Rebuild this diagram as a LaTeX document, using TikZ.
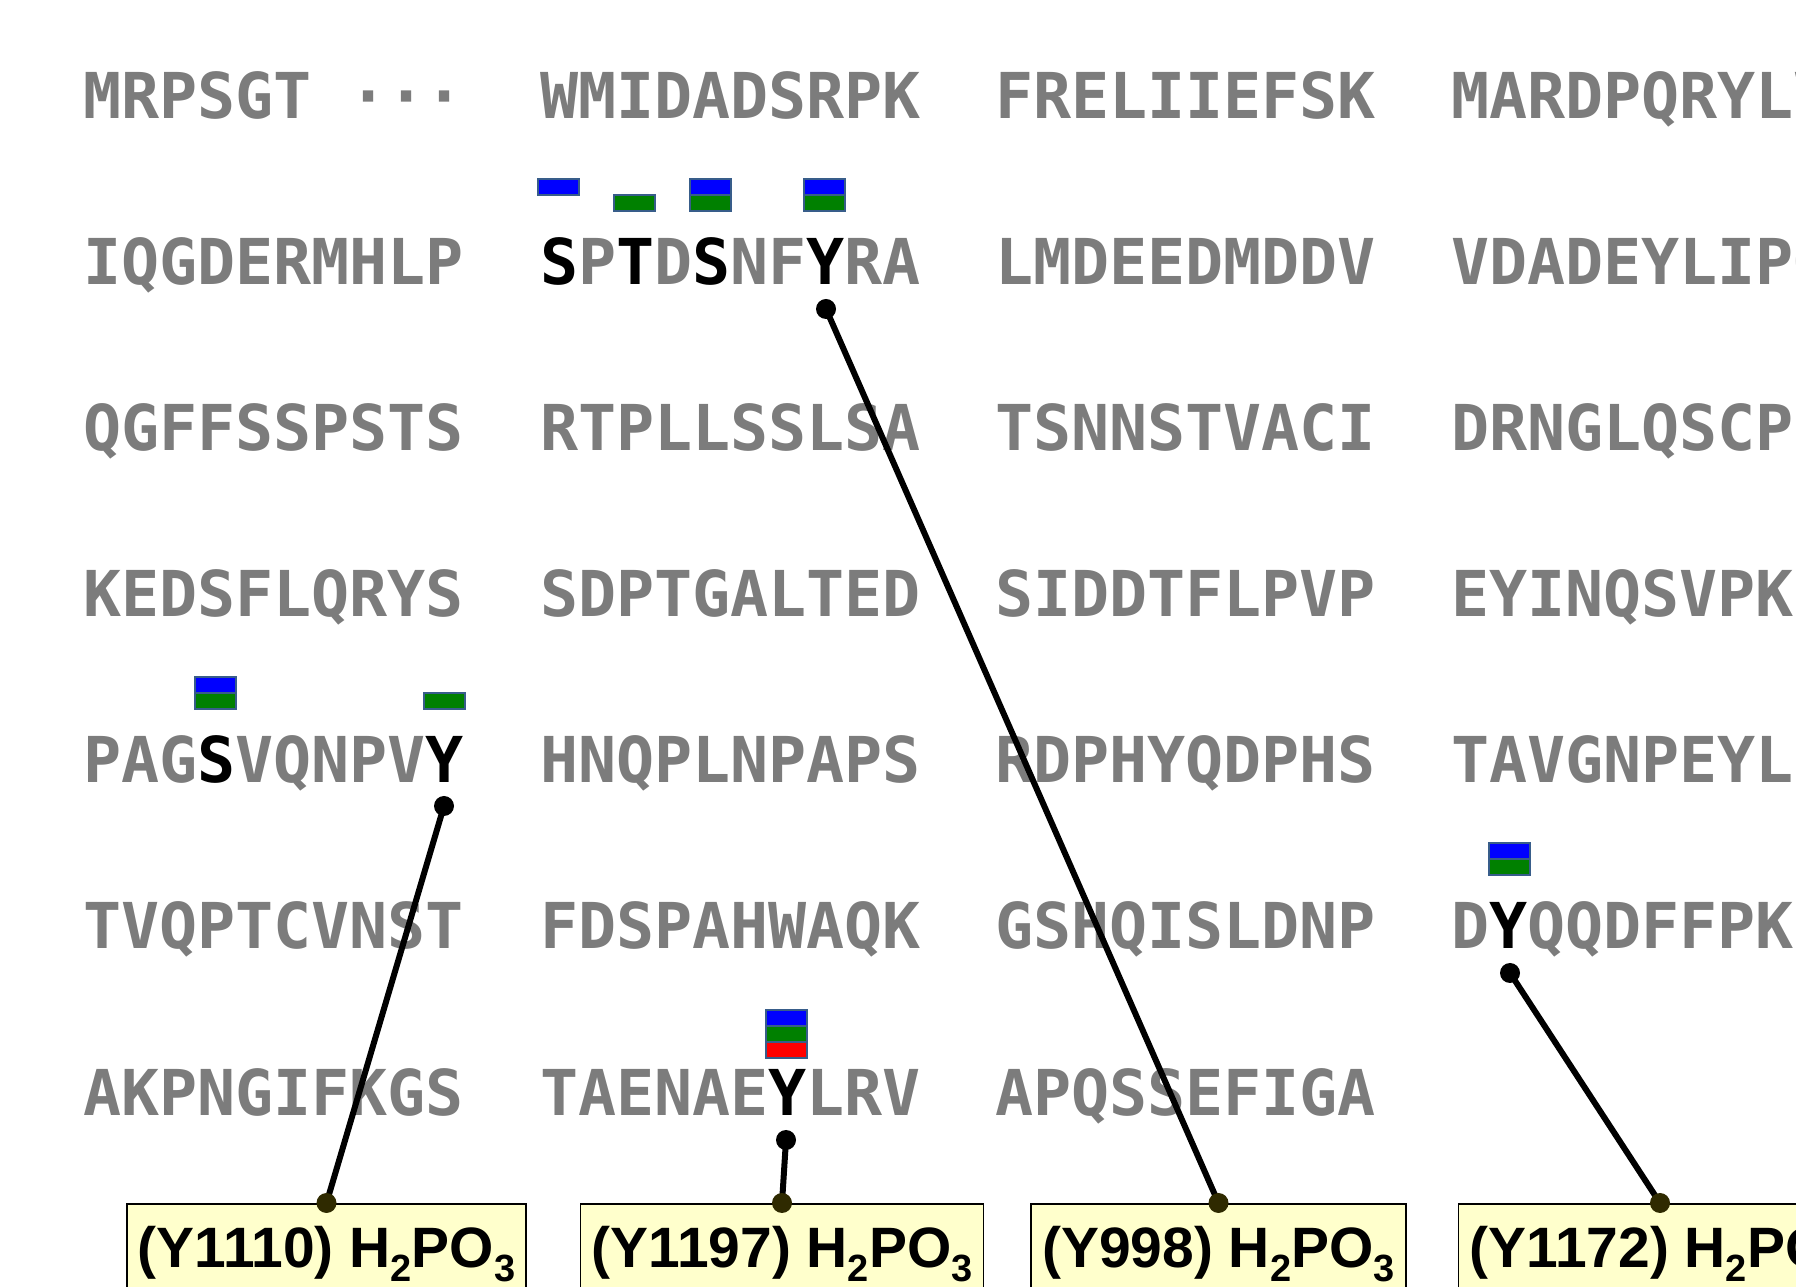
\documentclass[tikz,border=0pt]{standalone}
\usepackage{fontspec}
\usetikzlibrary{positioning,calc}
\newfontfamily\seqfont{DejaVu Sans Mono}
\newfontfamily\etqfont{Liberation Sans}
\definecolor{resto}{HTML}{7C7C7C}
\definecolor{borde}{HTML}{385D8A}
\definecolor{azul}{HTML}{0000FF}
\definecolor{verde}{HTML}{008000}
\definecolor{rojo}{HTML}{FF0000}
\definecolor{crema}{HTML}{FFFFCC}
\definecolor{oliva}{HTML}{2F2A00}
\tikzset{
  bloque/.style={anchor=base west,inner sep=0pt,text=resto,font=\seqfont\bfseries\fontsize{18pt}{20pt}\selectfont},
  ranura/.style={draw=borde,line width=0.2mm,minimum width=4.1mm,minimum height=1.6mm,inner sep=0pt},
  caja/.style={draw=black,line width=0.18mm,fill=crema,anchor=north,inner xsep=1.1mm,inner ysep=0pt,
    text height=6.4mm,text depth=3mm,font=\etqfont\bfseries\fontsize{16.2pt}{18pt}\selectfont},
  enlace/.style={line width=0.6mm,color=black},
}
\newcommand{\fos}[1]{\textcolor{black}{#1}}
\newcommand{\indice}[1]{\raisebox{-1.4mm}{\fontsize{10.8pt}{12pt}\selectfont #1}}

\begin{document}
\begin{tikzpicture}[x=0.1mm,y=-0.1mm]
  \useasboundingbox (0,0) rectangle (1796,1287);
  \clip (0,0) rectangle (1796,1287);
  % secuencia, cuatro bloques de diez por fila
  \foreach \y/\a/\b/\c/\d [count=\r] in {
    118.3/{MRPSGT ···}/WMIDADSRPK/FRELIIEFSK/MARDPQRYLV,
    284.5/IQGDERMHLP/{\fos{S}P\fos{T}D\fos{S}NF\fos{Y}RA}/LMDEEDMDDV/VDADEYLIPQ,
    450.7/QGFFSSPSTS/RTPLLSSLSA/TSNNSTVACI/DRNGLQSCPI,
    616.9/KEDSFLQRYS/SDPTGALTED/SIDDTFLPVP/EYINQSVPKR,
    782.8/{PAG\fos{S}VQNPV\fos{Y}}/HNQPLNPAPS/RDPHYQDPHS/TAVGNPEYLN,
    949/TVQPTCVNST/FDSPAHWAQK/GSHQISLDNP/{D\fos{Y}QQDFFPKE}}
  {
    \node[bloque] (f\r-1) at (82.3,\y) {\a};
    \node[bloque] (f\r-2) at (539.3,\y) {\b};
    \node[bloque] (f\r-3) at (994.5,\y) {\c};
    \node[bloque] (f\r-4) at (1450.5,\y) {\d};
  }
  \node[bloque] (f7-1) at (82.3,1115.2) {AKPNGIFKGS};
  \node[bloque] (f7-2) at (539.3,1115.2) {TAENAE\fos{Y}LRV};
  \node[bloque] (f7-3) at (994.5,1115.2) {APQSSEFIGA};
  % marcas encima de los residuos
  \foreach \x/\y/\c [count=\i] in {558.3/187/azul,634.5/203/verde,710.6/187/azul,710.6/203/verde,
      824.9/187/azul,824.9/203/verde,215.6/685.3/azul,215.6/701.3/verde,444.1/701.3/verde,
      1509/851.5/azul,1509/867.5/verde,786.8/1017.7/azul,786.8/1033.7/verde,786.8/1049.7/rojo}
    \node[ranura,fill=\c] (m\i) at (\x,\y) {};
  % etiquetas
  \node[caja] (y1110) at (326.5,1203) {(Y1110) H\indice{2}PO\indice{3}};
  \node[caja] (y1197) at (782,1203) {(Y1197) H\indice{2}PO\indice{3}};
  \node[caja] (y998) at (1218.5,1203) {(Y998) H\indice{2}PO\indice{3}};
  \node[caja] (y1172) at (1660,1203) {(Y1172) H\indice{2}PO\indice{3}};
  \coordinate (s1110) at (444,806);
  \coordinate (s1197) at (786,1140);
  \coordinate (s998) at (826,309);
  \coordinate (s1172) at (1510,973);
  \foreach \s in {1110,1197,998,1172} {
    \draw[enlace] (s\s) -- (y\s.north);
    \fill (s\s) circle[radius=1mm];
    \fill[oliva] (y\s.north) circle[radius=1mm];
  }
\end{tikzpicture}
\end{document}
